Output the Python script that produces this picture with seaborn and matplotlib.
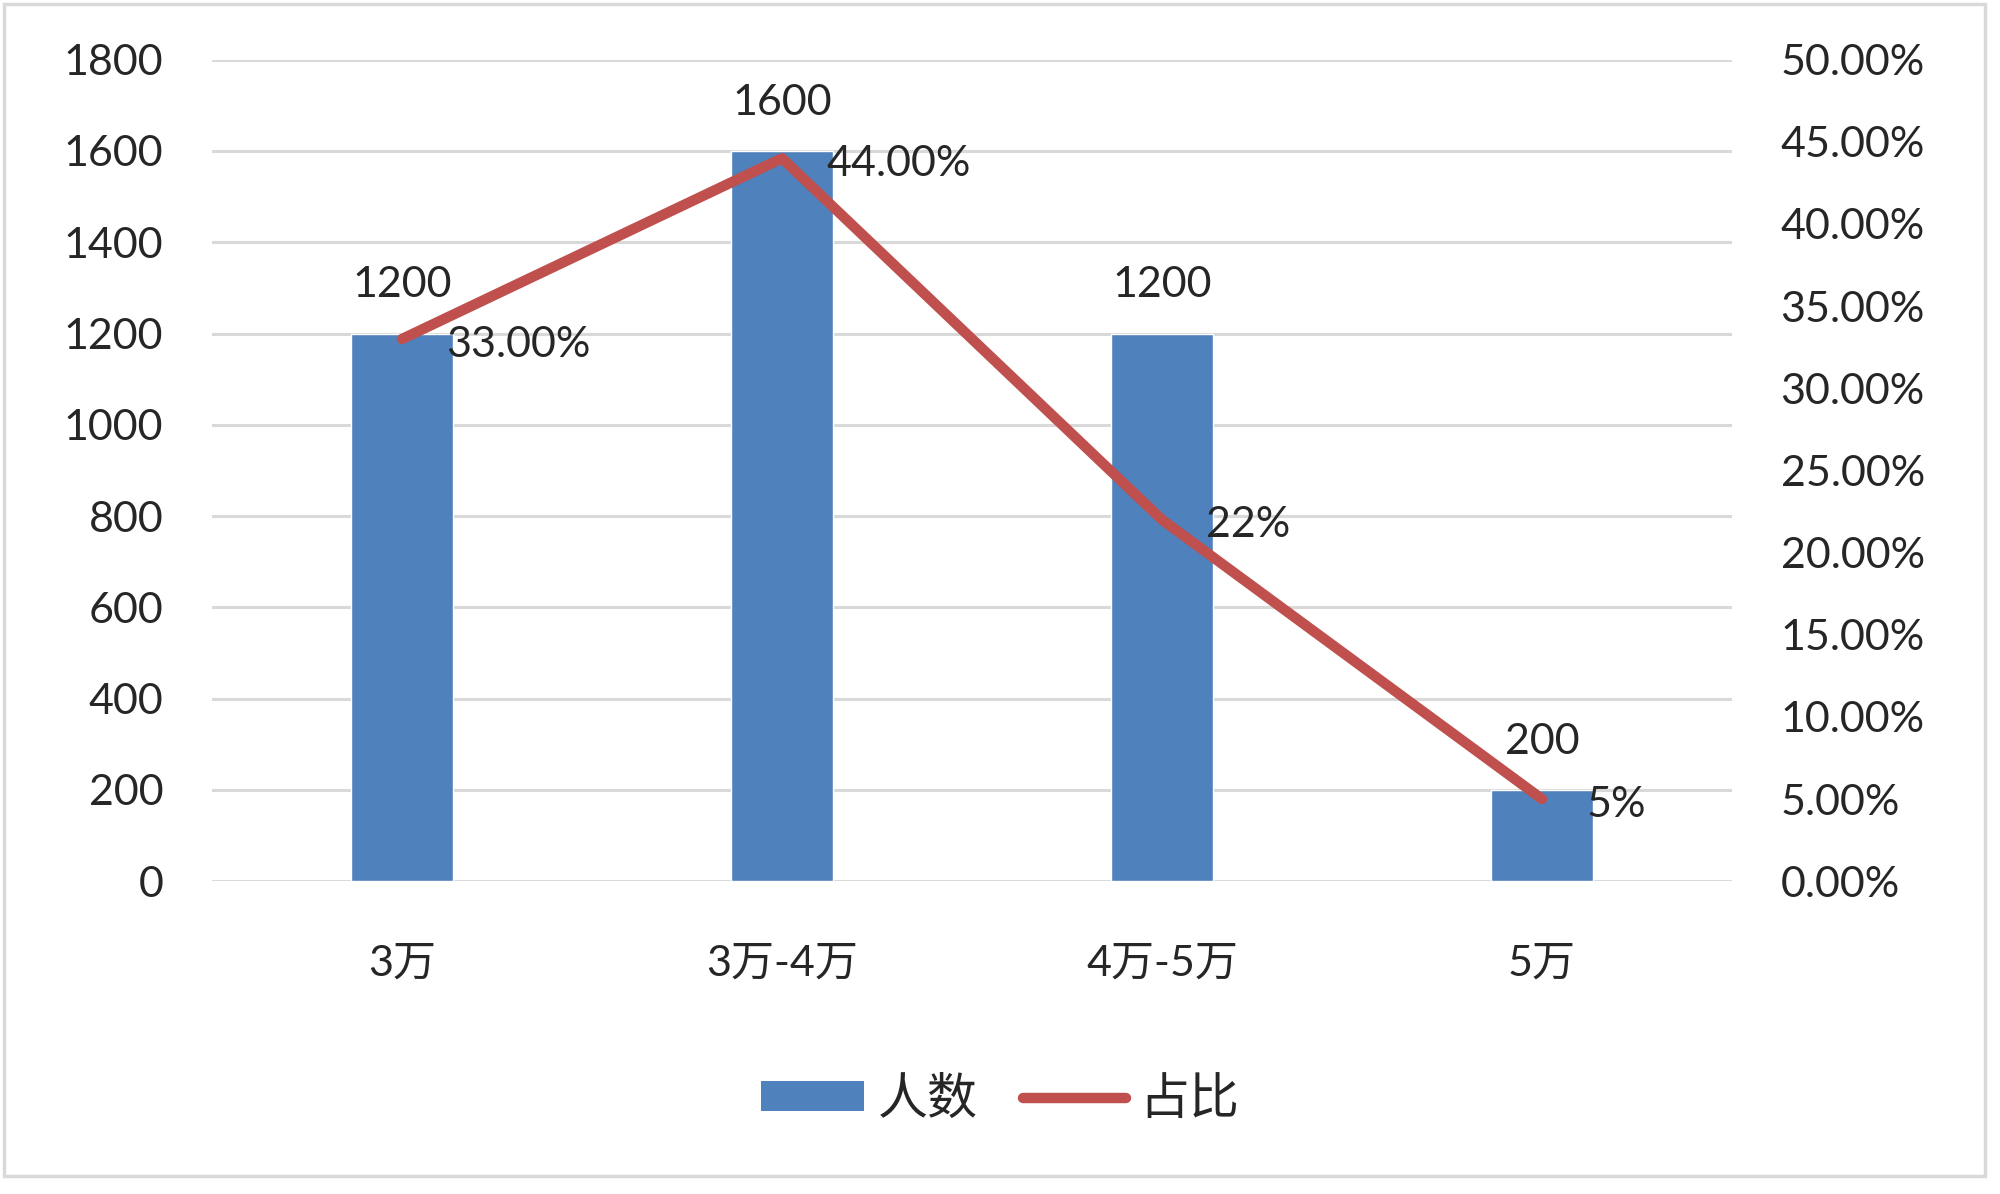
import matplotlib
matplotlib.use("Agg")
import matplotlib.pyplot as plt
import seaborn as sns
import pandas as pd
from matplotlib.patches import Patch, Rectangle
from matplotlib.lines import Line2D

# données
categories = ["3万", "3万-4万", "4万-5万", "5万"]
renshu = [1200, 1600, 1200, 200]
zhanbi = [0.33, 0.44, 0.22, 0.05]
zhanbi_labels = ["33.00%", "44.00%", "22%", "5%"]
y_left_ticks = [0, 200, 400, 600, 800, 1000, 1200, 1400, 1600, 1800]
y_right_ticks = [0.0, 0.05, 0.10, 0.15, 0.20, 0.25, 0.30, 0.35, 0.40, 0.45, 0.50]

sns.set_theme(style="white")
plt.rcParams["font.family"] = ["Lato", "Noto Sans CJK SC", "DejaVu Sans"]

bleu = "#4F81BD"
rouge = "#C0504D"
gris = "#D9D9D9"
fs = 31

df = pd.DataFrame({"cat": categories, "renshu": renshu, "zhanbi": zhanbi})

fig = plt.figure(figsize=(20, 11.94), dpi=100)
ax = fig.add_axes([0.106, 0.262, 0.76, 0.688])

sns.barplot(data=df, x="cat", y="renshu", color=bleu, width=0.27,
            saturation=1, ax=ax, zorder=3)
ax.bar_label(ax.containers[0], fmt="%d", padding=21, fontsize=fs)
ax.set_xlim(-0.5, 3.5)
ax.set_ylim(0, 1800)
ax.set_yticks(y_left_ticks)
ax.yaxis.grid(True, color=gris, linewidth=2.2, zorder=0)
ax.set_axisbelow(True)
ax.set_xlabel("")
ax.set_ylabel("")
ax.tick_params(axis="x", length=0, pad=46, labelsize=fs)
ax.tick_params(axis="y", length=0, pad=35, labelsize=fs)
for s in ax.spines.values():
    s.set_visible(False)

ax2 = ax.twinx()
sns.lineplot(data=df, x="cat", y="zhanbi", color=rouge, linewidth=7.5,
             ax=ax2, sort=False, solid_capstyle="round", zorder=4)
ax2.set_ylim(0, 0.5)
ax2.set_yticks(y_right_ticks)
ax2.set_yticklabels([f"{v*100:.2f}%" for v in y_right_ticks])
ax2.set_ylabel("")
ax2.tick_params(axis="y", length=0, pad=35, labelsize=fs)
for s in ax2.spines.values():
    s.set_visible(False)
for i, (v, lab) in enumerate(zip(zhanbi, zhanbi_labels)):
    ax2.annotate(lab, (i, v), xytext=(32, -4), textcoords="offset points",
                 ha="left", va="center", fontsize=fs)
ax2.set_xlim(-0.5, 3.5)

# legende
handles = [Patch(facecolor=bleu, edgecolor="none"),
           Line2D([0], [0], color=rouge, linewidth=7.5, solid_capstyle="round")]
fig.legend(handles, ["人数", "占比"], loc="center", bbox_to_anchor=(0.5, 0.079),
           ncol=2, frameon=False, fontsize=36, handlelength=2.06,
           handleheight=0.52, handletextpad=0.28, columnspacing=0.9)

# cadre
fig.patches.append(Rectangle((0.002, 0.015), 0.9905, 0.982, transform=fig.transFigure,
                             fill=False, edgecolor=gris, linewidth=2.5))

fig.savefig("out.png", dpi=100)
